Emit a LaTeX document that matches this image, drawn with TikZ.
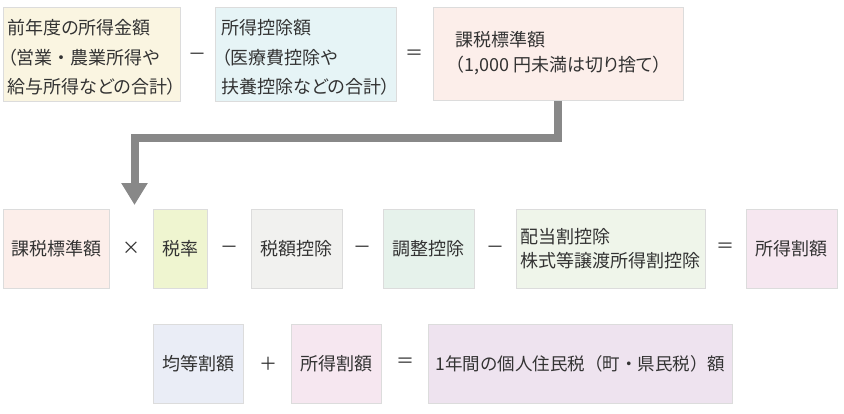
\documentclass[tikz,border=0pt]{standalone}
\usepackage{fontspec}
\setmainfont[RawFeature=+palt]{Noto Sans CJK JP}
\newfontfamily\fwfont{Noto Sans CJK JP}
\usetikzlibrary{arrows.meta}
\definecolor{txt}{HTML}{333333}
\definecolor{bordc}{HTML}{DCDCDC}
\definecolor{connc}{HTML}{888888}
\definecolor{cream}{HTML}{FAF5E1}
\definecolor{lblue}{HTML}{E6F4F6}
\definecolor{lpink}{HTML}{FCEEEA}
\definecolor{lyell}{HTML}{EFF5D0}
\definecolor{lgray}{HTML}{F1F1EF}
\definecolor{lgreen}{HTML}{E6F2EB}
\definecolor{lgreen2}{HTML}{EFF5EA}
\definecolor{lmag}{HTML}{F6E7F0}
\definecolor{lviol}{HTML}{EAEDF6}
\definecolor{lpurp}{HTML}{EEE3EF}
\begin{document}
\begin{tikzpicture}[x=1pt,y=-1pt,
  box/.style={draw=bordc, line width=0.8pt, anchor=north west, inner sep=0pt,
    font=\fontsize{18}{30}\selectfont, text=txt, align=left},
  lbl/.style={inner sep=0pt, text=txt, align=left},
  op/.style={text=txt, font=\fontsize{18}{20}\selectfont, inner sep=0pt},
  conn/.style={draw=connc, line width=8pt, line join=miter,
    -{Triangle[width=25pt,length=22pt]}}]
\fill[white] (0,0) rectangle (844,413);
\useasboundingbox (0,0) rectangle (844,413);
% row 1
\node[box, fill=cream, minimum width=177pt, minimum height=94pt] (A) at (3,7) {};
\node[lbl, font=\fontsize{18}{29.5}\selectfont] (At) at ([yshift=-3pt]A.center)
  {前年度の所得金額\\（営業{\fwfont ・}農業所得や\\給与所得などの合計）};
\node[op] (m1) at (197.5,57) {－};
\node[box, fill=lblue, minimum width=181pt, minimum height=94pt] (B) at (215,7) {};
\node[lbl, font=\fontsize{18}{29.5}\selectfont] (Bt) at ([yshift=-3pt]B.center)
  {所得控除額\\（医療費控除や\\扶養控除などの合計）};
\node[op] (e1) at (414.5,55) {＝};
\node[box, fill=lpink, minimum width=250pt, minimum height=93pt] (C) at (433,7) {};
\node[lbl, font=\fontsize{18}{25}\selectfont] (Ct) at ([yshift=1pt]C.center)
  {課税標準額\\（1,000 円未満は切り捨て）};
% connector
\coordinate (tip) at (134.5,205);
\draw[conn] (C.south) -- ++(0,37.5) -| (tip);
% row 2
\node[box, fill=lpink, minimum width=106pt, minimum height=79pt] (r1) at (3,209) {課税標準額};
\node[op] (x2) at (131,248.5) {×};
\node[box, fill=lyell, minimum width=54pt, minimum height=79pt] (r2) at (153,209) {税率};
\node[op] (m2) at (229,249.5) {－};
\node[box, fill=lgray, minimum width=91pt, minimum height=79pt] (r3) at (251,209) {税額控除};
\node[op] (m3) at (362,249.5) {－};
\node[box, fill=lgreen, minimum width=91pt, minimum height=79pt] (r4) at (383,209) {調整控除};
\node[op] (m4) at (495,249.5) {－};
\node[box, fill=lgreen2, minimum width=189pt, minimum height=79pt] (r5) at (516,209) {};
\node[lbl, font=\fontsize{18}{24}\selectfont] (r5t) at (r5.center) {配当割控除\\株式等譲渡所得割控除};
\node[op] (e2) at (725.5,248) {＝};
\node[box, fill=lmag, minimum width=91pt, minimum height=79pt] (r6) at (746,209) {所得割額};
% row 3
\node[box, fill=lviol, minimum width=90pt, minimum height=79pt] (s1) at (153,324) {均等割額};
\node[op] (p3) at (268,364) {＋};
\node[box, fill=lmag, minimum width=90pt, minimum height=79pt] (s2) at (291,324) {所得割額};
\node[op] (e3) at (405,363) {＝};
\node[box, fill=lpurp, minimum width=304pt, minimum height=79pt] (s3) at (428,324)
  {{\fwfont\fontsize{17.5}{20}\selectfont 1年間の個人住民税（町・県民税）額}};
\end{tikzpicture}
\end{document}
